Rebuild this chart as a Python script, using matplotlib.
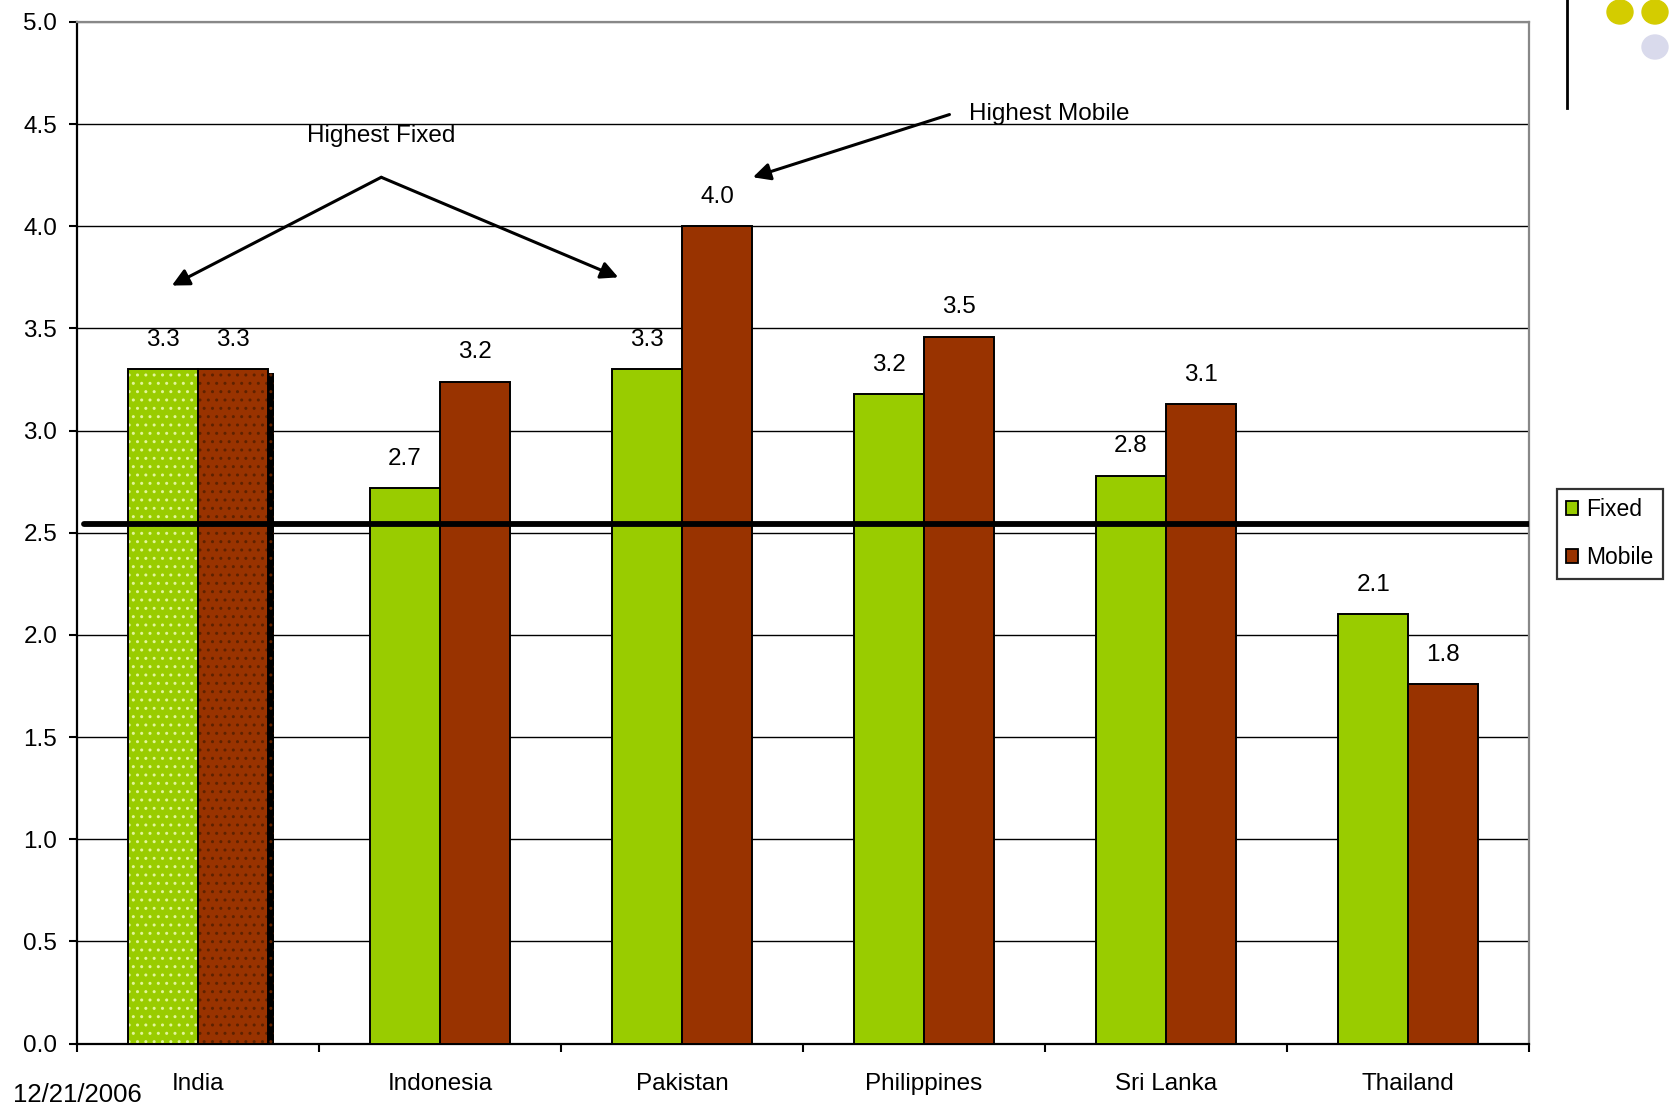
import matplotlib
matplotlib.use('Agg')
import matplotlib.pyplot as plt
import matplotlib.patheffects as pe
from matplotlib.patches import Patch, Ellipse
from matplotlib.lines import Line2D
import numpy as np

plt.rcParams['font.family'] = ['Liberation Sans', 'DejaVu Sans']
plt.rcParams['hatch.linewidth'] = 1.0

countries = ['India', 'Indonesia', 'Pakistan', 'Philippines', 'Sri Lanka', 'Thailand']
fixed = [3.30, 2.72, 3.30, 3.18, 2.78, 2.10]
mobile = [3.30, 3.24, 4.00, 3.46, 3.13, 1.76]
average = 2.545

green = '#99CC00'
brown = '#993300'
fs = 17.5

W, H = 1671, 1117
fig = plt.figure(figsize=(W / 100, H / 100), dpi=100)
ax = fig.add_axes([76.7 / W, (H - 1043.5) / H, (1529.3 - 76.7) / W, (1043.5 - 22) / H])

x = np.arange(len(countries))
bw = 0.29

# India bars are drawn dotted, with a drop shadow on the mobile bar
for i in x:
    dotted = countries[i] == 'India'
    if dotted:
        ax.bar(i - bw / 2, fixed[i], bw, color=green, edgecolor='#E2F59A',
               hatch='..', linewidth=0, zorder=3)
        mb = ax.bar(i + bw / 2, mobile[i], bw, color=brown, edgecolor='#5E2200',
                    hatch='..', linewidth=0, zorder=3)
        mb[0].set_path_effects([pe.SimplePatchShadow(offset=(4.5, -3), shadow_rgbFace='black', alpha=1.0),
                                pe.Normal()])
    else:
        ax.bar(i - bw / 2, fixed[i], bw, color=green, linewidth=0, zorder=3)
        ax.bar(i + bw / 2, mobile[i], bw, color=brown, linewidth=0, zorder=3)
    ax.bar(i - bw / 2, fixed[i], bw, fill=False, edgecolor='black', linewidth=1.4, zorder=4)
    ax.bar(i + bw / 2, mobile[i], bw, fill=False, edgecolor='black', linewidth=1.4, zorder=4)

for i in x:
    for xv, v in ((i - bw / 2, fixed[i]), (i + bw / 2, mobile[i])):
        ax.annotate('%.1f' % v, (xv, v), xytext=(0, 21), textcoords='offset points',
                    ha='center', va='center', fontsize=fs)

# average line
ax.plot([-0.468, 5.5], [average, average], color='black', lw=4.2,
        solid_capstyle='round', zorder=5)

ax.set_xlim(-0.5, 5.5)
ax.set_ylim(0, 5)
ax.set_yticks(np.arange(0, 5.01, 0.5))
ax.set_yticklabels(['%.1f' % t for t in np.arange(0, 5.01, 0.5)], fontsize=fs)
ax.yaxis.grid(True, color='black', lw=1.0)
ax.get_ygridlines()[-1].set_color('#888888')
ax.set_axisbelow(True)

ax.set_xticks(np.arange(-0.5, 6, 1))
ax.set_xticklabels([])
ax.set_xticks(x, minor=True)
ax.set_xticklabels(countries, minor=True, fontsize=fs)
ax.tick_params(axis='x', which='major', direction='out', length=6, width=1.5)
ax.tick_params(axis='x', which='minor', length=0, pad=21)
ax.tick_params(axis='y', direction='out', length=6, width=1.5, pad=8)

for s in ('left', 'bottom'):
    ax.spines[s].set_linewidth(1.6)
    ax.spines[s].set_color('black')
for s in ('top', 'right'):
    ax.spines[s].set_linewidth(1.6)
    ax.spines[s].set_color('#888888')

# callouts
arrow = dict(arrowstyle='-|>', color='black', lw=2.2, mutation_scale=26, shrinkA=0, shrinkB=0)
ax.text(0.759, 4.44, 'Highest Fixed', ha='center', va='center', fontsize=fs)
ax.annotate('', xy=(-0.107, 3.71), xytext=(0.758, 4.24), arrowprops=arrow)
ax.annotate('', xy=(1.737, 3.75), xytext=(0.758, 4.24), arrowprops=arrow)
ax.text(3.184, 4.55, 'Highest Mobile', ha='left', va='center', fontsize=fs)
ax.annotate('', xy=(2.293, 4.24), xytext=(3.105, 4.547), arrowprops=arrow)

handles = [Patch(facecolor=green, edgecolor='black', lw=1.3, label='Fixed'),
           Patch(facecolor=brown, edgecolor='black', lw=1.3, label='Mobile')]
leg = fig.legend(handles=handles, loc='upper left', bbox_to_anchor=(1556.7 / W, 1 - 489 / H),
                 fontsize=16.5, fancybox=False, frameon=True, edgecolor='black',
                 handlelength=0.55, handleheight=0.55, handletextpad=0.35,
                 borderpad=0.4, labelspacing=1.1, borderaxespad=0)
leg.get_frame().set_linewidth(1.6)

fig.text(12.7 / W, 1 - 1095 / H, '12/21/2006', ha='left', va='center', fontsize=18.5)

# corner ornament
fig.add_artist(Line2D([1566.7 / W, 1566.7 / W], [1, 1 - 108 / H], color='black', lw=2.0))
for cx, cy, c in ((1620, 12, '#D4CC00'), (1655, 12, '#D4CC00'), (1655, 47, '#D9DAEC')):
    fig.add_artist(Ellipse((cx / W, 1 - cy / H), 26 / W, 24 / H, color=c,
                           transform=fig.transFigure))

fig.savefig('out.png', dpi=100)
